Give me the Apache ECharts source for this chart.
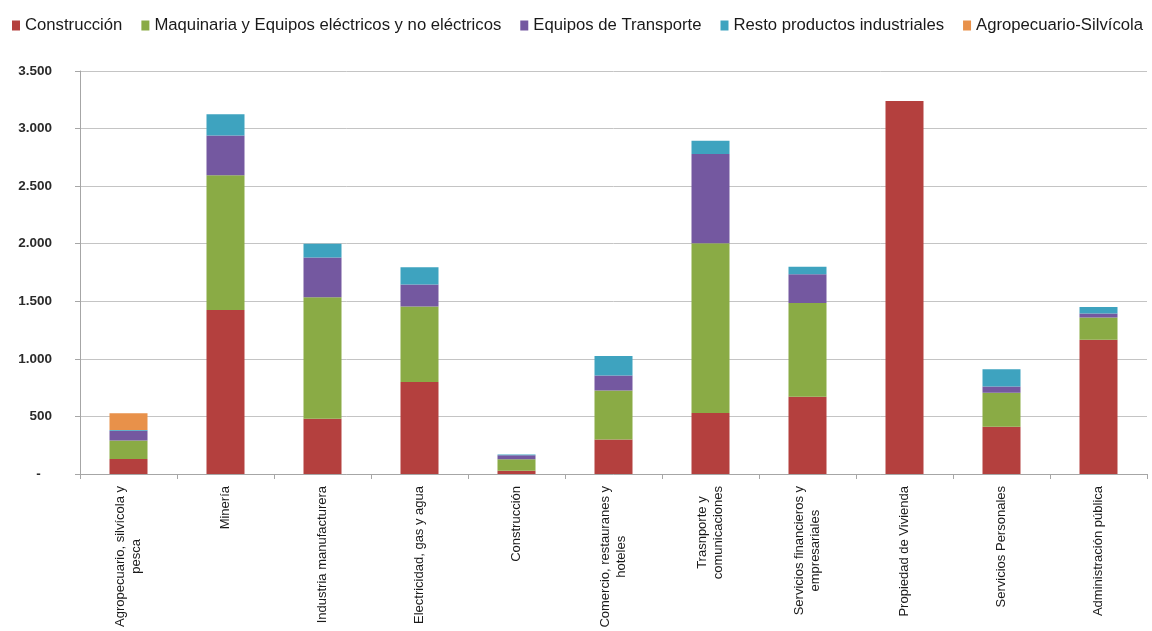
<!DOCTYPE html>
<html>
<head>
<meta charset="utf-8">
<script src="https://cdn.jsdelivr.net/npm/echarts@6/dist/echarts.min.js"></script>
<style>
  html, body { margin: 0; padding: 0; background: #fff; }
  #chart { width: 1152px; height: 631px; }
</style>
</head>
<body>
<div id="chart"></div>
<script>
// Sectors (x axis), line breaks as printed under each bar
var sectors = [
  'Agropecuario, silvícola y\npesca',
  'Minería',
  'Industria manufacturera',
  'Electricidad, gas y agua',
  'Construcción',
  'Comercio, restauranes y\nhoteles',
  'Trasnporte y\ncomunicaciones',
  'Servicios financieros y\nempresariales',
  'Propiedad de Vivienda',
  'Servicios Personales',
  'Administración pública'
];

// Stacked components, one value per sector
var construccion  = [130, 1425,  480,  800,  28, 300,  530,  670, 3240, 410, 1165];
var maquinaria    = [160, 1170, 1055,  655, 100, 425, 1475,  815,    0, 295,  195];
var transporte    = [ 85,  345,  345,  190,  35, 130,  775,  250,    0,  55,   35];
var restoInd      = [  8,  185,  120,  150,   7, 170,  115,   65,    0, 150,   55];
var agropecuario  = [145,    0,    0,    0,   0,   0,    0,    0,    0,   0,    0];

var seriesNames = [
  'Construcción',
  'Maquinaria y Equipos eléctricos y no eléctricos',
  'Equipos de Transporte',
  'Resto productos industriales',
  'Agropecuario-Silvícola'
];
var seriesColors = ['#B4403E', '#8AAB45', '#7458A0', '#3EA3BF', '#E8914A'];
var seriesData = [construccion, maquinaria, transporte, restoInd, agropecuario];

// y-axis tick values
var yMin = 0, yMax = 3500, yStep = 500;

function thousands(v) {
  if (v === 0) return '-   ';
  return String(v).replace(/\B(?=(\d{3})+(?!\d))/g, '.');
}

var FONT = '"Liberation Sans", Arial, sans-serif';
var chart = echarts.init(document.getElementById('chart'), null, { renderer: 'canvas' });

var series = seriesNames.map(function (name, i) {
  return {
    name: name,
    type: 'bar',
    stack: 'total',
    barWidth: 38,
    itemStyle: { color: seriesColors[i] },
    emphasis: { disabled: true },
    data: seriesData[i]
  };
});

chart.setOption({
  animation: false,
  backgroundColor: '#ffffff',
  textStyle: { fontFamily: FONT },
  legend: {
    left: 7,
    top: 12,
    itemWidth: 8,
    itemHeight: 10,
    itemGap: 19,
    icon: 'rect',
    selectedMode: false,
    textStyle: { fontSize: 16.7, color: '#1a1a1a', fontFamily: FONT },
    data: seriesNames
  },
  grid: { left: 80, right: 5, top: 71, bottom: 157, containLabel: false },
  xAxis: {
    type: 'category',
    data: sectors,
    axisLine: { lineStyle: { color: '#a6a6a6', width: 1 } },
    axisTick: { show: true, length: 5, lineStyle: { color: '#a6a6a6' } },
    axisLabel: {
      interval: 0,
      rotate: 90,
      margin: 12,
      color: '#1a1a1a',
      fontSize: 13,
      fontFamily: FONT,
      lineHeight: 16,
      formatter: function (v) {
        return v.split('\n').map(function (l) { return '{c|' + l + '}'; }).join('\n');
      },
      rich: {
        c: { align: 'center', fontSize: 13, lineHeight: 16, color: '#1a1a1a', fontFamily: FONT }
      }
    }
  },
  yAxis: {
    type: 'value',
    min: yMin,
    max: yMax,
    interval: yStep,
    axisLine: { show: true, lineStyle: { color: '#a6a6a6', width: 1 } },
    axisTick: { show: true, length: 5, inside: false, lineStyle: { color: '#a6a6a6' } },
    splitLine: { lineStyle: { color: '#c4c4c4', width: 1 } },
    axisLabel: {
      margin: 28,
      color: '#2a2a2a',
      fontSize: 13.5,
      fontWeight: 'bold',
      fontFamily: FONT,
      formatter: thousands
    }
  },
  series: series
});
</script>
</body>
</html>
